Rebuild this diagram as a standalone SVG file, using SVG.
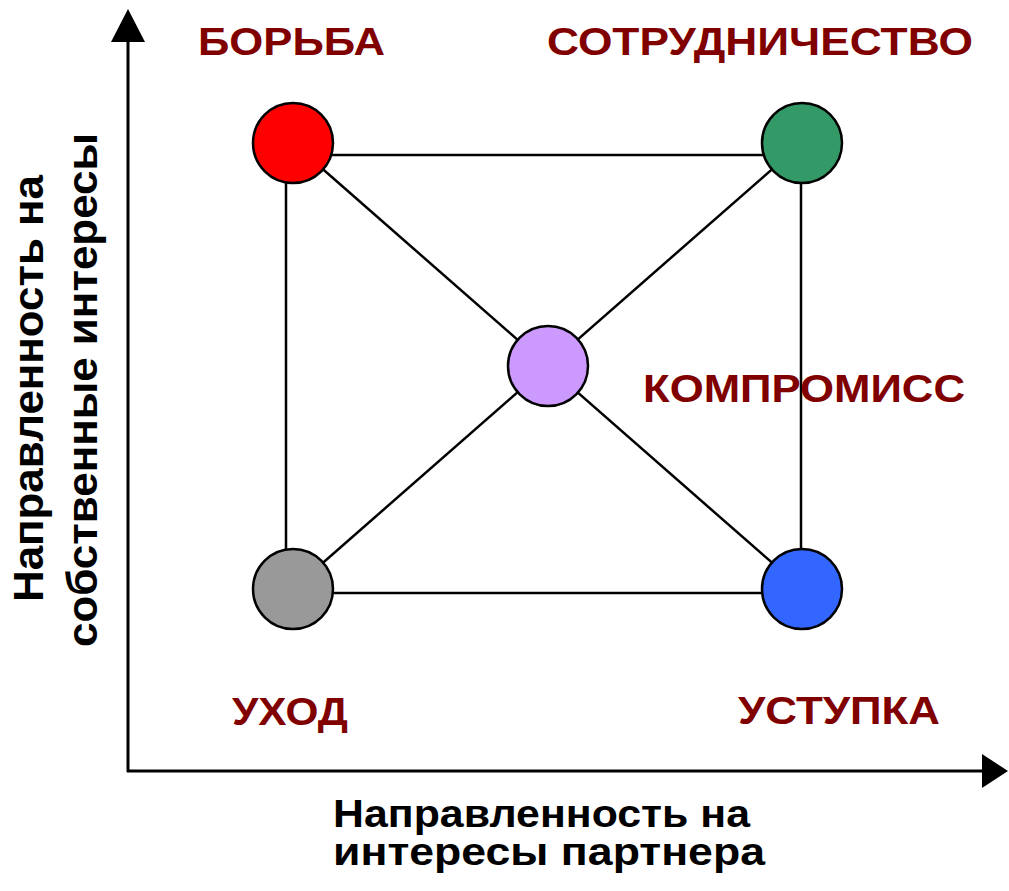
<svg xmlns="http://www.w3.org/2000/svg" width="1009" height="891" viewBox="0 0 1009 891">
  <style>
    .title { font-family: "Liberation Sans", Arial, sans-serif; font-weight: bold; font-size: 39px; fill: #800000; }
    .axis-label { font-family: "Liberation Sans", Arial, sans-serif; font-weight: bold; fill: #000000; }
    .conn { stroke: #000000; stroke-width: 2.5; fill: none; }
    .axis { stroke: #000000; stroke-width: 3; fill: none; }
    .node { stroke: #000000; stroke-width: 2.5; }
  </style>
  <rect width="1009" height="891" fill="#ffffff"/>
  <g id="axes">
    <line class="axis" x1="128" y1="772" x2="128" y2="40"/>
    <polygon points="128,9 111,42 145,42" fill="#000000"/>
    <line class="axis" x1="127" y1="771" x2="984" y2="771"/>
    <polygon points="1008,771 982,754 982,788" fill="#000000"/>
  </g>
  <g id="connectors">
    <line class="conn" x1="293" y1="155" x2="802" y2="155"/>
    <line class="conn" x1="293" y1="593" x2="802" y2="593"/>
    <line class="conn" x1="286" y1="143" x2="286" y2="589"/>
    <line class="conn" x1="801" y1="143" x2="801" y2="589"/>
    <line class="conn" x1="293" y1="143" x2="802" y2="589"/>
    <line class="conn" x1="802" y1="143" x2="293" y2="589"/>
  </g>
  <g id="borba">
    <circle class="node" cx="293" cy="143" r="40" fill="#FF0000"/>
    <text class="title" x="198" y="55" textLength="187" lengthAdjust="spacingAndGlyphs">БОРЬБА</text>
  </g>
  <g id="sotrudnichestvo">
    <circle class="node" cx="802" cy="143" r="40" fill="#339966"/>
    <text class="title" x="547" y="55" textLength="426" lengthAdjust="spacingAndGlyphs">СОТРУДНИЧЕСТВО</text>
  </g>
  <g id="kompromiss">
    <circle class="node" cx="548" cy="366" r="40" fill="#CC99FF"/>
    <text class="title" x="643" y="402" textLength="322" lengthAdjust="spacingAndGlyphs">КОМПРОМИСС</text>
  </g>
  <g id="uhod">
    <circle class="node" cx="293" cy="589" r="40" fill="#999999"/>
    <text class="title" x="232" y="725" textLength="116" lengthAdjust="spacingAndGlyphs">УХОД</text>
  </g>
  <g id="ustupka">
    <circle class="node" cx="802" cy="589" r="40" fill="#3366FF"/>
    <text class="title" x="738" y="724" textLength="202" lengthAdjust="spacingAndGlyphs">УСТУПКА</text>
  </g>
  <g id="y-label">
    <text class="axis-label" font-size="42" transform="translate(43,602) rotate(-90)" textLength="427" lengthAdjust="spacingAndGlyphs">Направленность на</text>
    <text class="axis-label" font-size="42" transform="translate(97,647) rotate(-90)" textLength="514" lengthAdjust="spacingAndGlyphs">собственные интересы</text>
  </g>
  <g id="x-label">
    <text class="axis-label" font-size="38" x="333" y="827" textLength="417" lengthAdjust="spacingAndGlyphs">Направленность на</text>
    <text class="axis-label" font-size="38" x="333" y="865" textLength="432" lengthAdjust="spacingAndGlyphs">интересы партнера</text>
  </g>
</svg>
